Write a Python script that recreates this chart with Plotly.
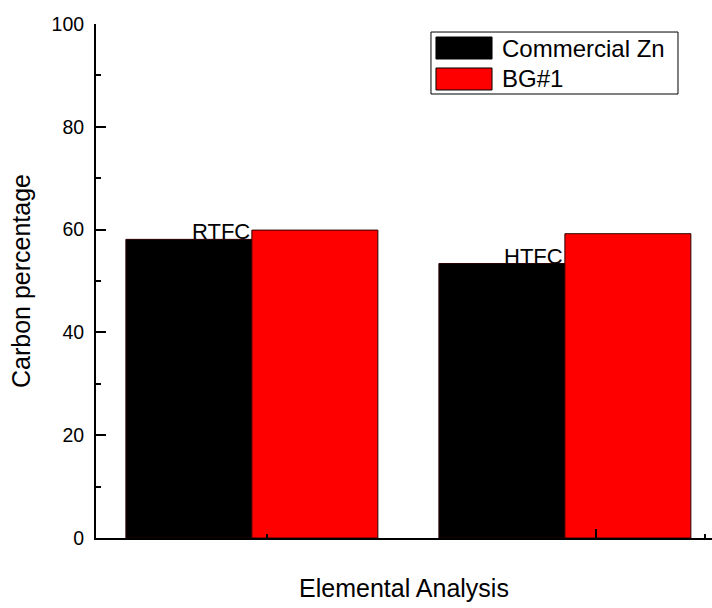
import plotly.graph_objects as go

groups = ["RTFC", "HTFC"]
series_names = ["Commercial Zn", "BG#1"]
commercial_zn = [58.1, 53.4]
bg1 = [59.9, 59.2]
colors = ["#000000", "#ff0000"]
y_ticks = [0, 20, 40, 60, 80, 100]

FONT = "Liberation Sans, Arial, sans-serif"
xpos = list(range(len(groups)))

fig = go.Figure()
for name, vals, col in zip(series_names, [commercial_zn, bg1], colors):
    fig.add_trace(go.Bar(
        x=xpos, y=vals, name=name,
        marker=dict(color=col, line=dict(color="#2a0000", width=1)),
        showlegend=False,
    ))

# group labels sitting at the top-right of the black bars
for xi, lab, v in zip(xpos, groups, commercial_zn):
    fig.add_annotation(x=xi, y=v, xref="x", yref="y", text=lab, showarrow=False,
                       xanchor="right", yanchor="bottom", yshift=-7,
                       font=dict(family=FONT, size=22, color="#000"))

# custom legend (box, swatches, labels) in paper coordinates
fig.add_shape(type="rect", xref="paper", yref="paper", x0=0.5438, x1=0.9448,
              y0=0.8638, y1=0.9844, line=dict(color="#000", width=1), fillcolor="white")
sw_y = [(0.9319, 0.9747), (0.8716, 0.9144)]
txt_y = [0.9533, 0.8930]
for name, col, (y0, y1), ty in zip(series_names, colors, sw_y, txt_y):
    fig.add_shape(type="rect", xref="paper", yref="paper", x0=0.5519, x1=0.6429,
                  y0=y0, y1=y1, line=dict(color="#000", width=1), fillcolor=col)
    fig.add_annotation(x=0.6558, y=ty, xref="paper", yref="paper", text=name,
                       showarrow=False, xanchor="left", yanchor="middle",
                       font=dict(family=FONT, size=24, color="#000"))

fig.update_layout(
    width=712, height=608,
    margin=dict(l=96, r=0, t=24, b=70),
    paper_bgcolor="white", plot_bgcolor="white",
    barmode="group", bargap=0.195, bargroupgap=0,
    font=dict(family=FONT, color="#000"),
)
fig.update_xaxes(
    type="linear", range=[-0.498, 1.470],
    showline=True, linecolor="#000", linewidth=1.5,
    showgrid=False, zeroline=False, showticklabels=False,
    tickmode="array", tickvals=[1.099], ticks="inside", ticklen=9, tickwidth=1.5, tickcolor="#000",
    minor=dict(tickmode="array", tickvals=[0.048, 1.447], ticks="inside", ticklen=4,
               tickwidth=1.5, tickcolor="#000", showgrid=False),
    title=dict(text="Elemental Analysis", font=dict(family=FONT, size=25), standoff=41),
)
fig.update_yaxes(
    range=[0, 100], showline=True, linecolor="#000", linewidth=2,
    showgrid=False, zeroline=False,
    tickmode="array", tickvals=y_ticks, ticks="inside", ticklen=10, tickwidth=2, tickcolor="#000",
    minor=dict(tickmode="array", tickvals=[10, 30, 50, 70, 90], ticks="inside", ticklen=5,
               tickwidth=2, tickcolor="#000", showgrid=False),
    tickfont=dict(family=FONT, size=19.5),
    ticklabelstandoff=6,
    title=dict(text="Carbon percentage", font=dict(family=FONT, size=25), standoff=14),
)

fig.write_html("out.html")
